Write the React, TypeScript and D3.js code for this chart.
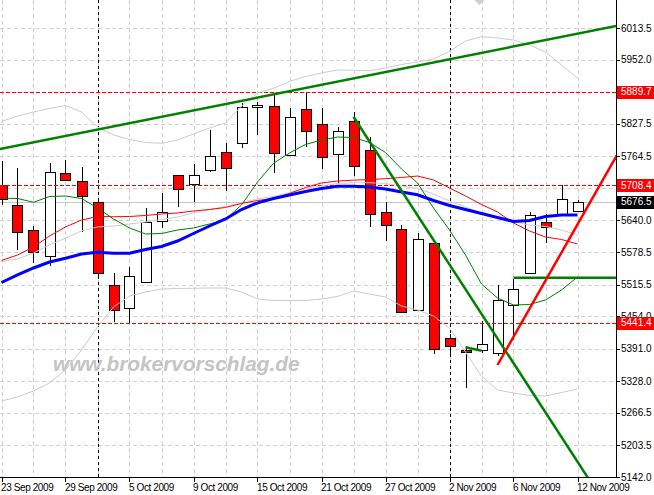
import React from 'react';
import * as d3 from 'd3';

// ---- data ----
const dates = [
  '2009-09-23','2009-09-24','2009-09-25','2009-09-28','2009-09-29','2009-09-30','2009-10-01','2009-10-02',
  '2009-10-05','2009-10-06','2009-10-07','2009-10-08','2009-10-09','2009-10-12','2009-10-13','2009-10-14',
  '2009-10-15','2009-10-16','2009-10-19','2009-10-20','2009-10-21','2009-10-22','2009-10-23','2009-10-26',
  '2009-10-27','2009-10-28','2009-10-29','2009-10-30','2009-11-02','2009-11-03','2009-11-04','2009-11-05',
  '2009-11-06','2009-11-09','2009-11-10','2009-11-11','2009-11-12'];
const open = [5708.8,5669.4,5620.8,5570.4,5731.5,5716.0,5675.2,5514.1,5470.6,5520.5,5638.3,5727.6,5710.1,5737.3,5772.2,5789.7,5859.6,5861.5,5766.4,5855.7,5826.6,5768.4,5832.4,5776.1,5655.8,5622.8,5466.1,5595.6,5411.2,5388.5,5388.5,5382.1,5476.8,5537.4,5636.4,5651.9,5658.3];
const high = [5755.9,5742.3,5629.2,5752.1,5757.3,5743.1,5683.5,5538.5,5549.6,5664.1,5693.2,5729.0,5749.5,5815.5,5790.3,5867.3,5870.4,5887.3,5857.6,5889.7,5857.6,5821.3,5849.9,5801.4,5675.2,5631.1,5615.6,5596.5,5419.6,5395.3,5444.8,5514.7,5526.9,5656.4,5652.5,5708.4,5680.0];
const low = [5670.0,5582.6,5558.0,5552.1,5716.0,5617.0,5527.7,5443.4,5441.4,5518.0,5625.9,5666.6,5675.2,5734.6,5697.1,5781.2,5805.8,5731.5,5765.0,5783.1,5739.2,5710.1,5726.2,5626.7,5600.1,5461.0,5465.0,5381.7,5378.8,5315.3,5382.1,5376.9,5407.9,5536.0,5595.6,5650.5,5656.5];
const close = [5681.6,5617.0,5579.3,5733.4,5717.9,5686.8,5537.4,5465.6,5531.6,5636.4,5655.8,5700.4,5727.6,5764.5,5741.2,5859.6,5863.5,5770.3,5840.2,5814.2,5762.5,5813.0,5745.1,5651.9,5630.2,5463.2,5603.4,5391.4,5397.2,5384.6,5400.2,5485.0,5506.3,5650.5,5626.7,5681.0,5676.5];

const maBlue = [5519.5,5534.1,5547.7,5559.3,5566.5,5574.8,5578.1,5576.2,5576.2,5583.6,5589.4,5600.1,5614.6,5629.2,5642.8,5661.2,5674.2,5682.6,5689.4,5696.2,5702.0,5706.3,5706.5,5704.9,5701.0,5695.2,5689.9,5678.7,5669.0,5661.2,5653.5,5645.7,5637.9,5639.9,5647.6,5650.5,5650.5];
const maRed = [5562.2,5572.9,5588.4,5609.8,5627.3,5640.8,5647.6,5647.2,5647.6,5649.6,5652.5,5654.4,5658.3,5661.2,5665.1,5672.9,5678.7,5682.6,5692.3,5703.9,5712.7,5716.5,5718.1,5719.4,5721.0,5723.3,5726.2,5718.5,5703.0,5687.4,5670.9,5656.4,5635.0,5619.5,5607.8,5603.0,5594.3];
const maGreen = [5683.0,5682.6,5675.2,5686.5,5687.4,5682.6,5664.1,5642.8,5625.3,5613.7,5614.6,5621.4,5625.3,5633.1,5641.8,5670.0,5714.6,5750.9,5770.9,5787.4,5796.1,5801.9,5801.0,5791.3,5771.9,5739.8,5712.7,5664.1,5621.4,5572.9,5516.6,5489.4,5475.9,5476.8,5485.6,5505.0,5530.2];
const bbUpper = [5832.0,5842.7,5850.5,5857.3,5863.1,5850.5,5821.4,5805.8,5797.1,5791.3,5789.7,5796.1,5807.8,5819.4,5829.1,5862.1,5887.3,5896.5,5909.7,5919.4,5926.2,5932.0,5931.4,5930.6,5935.9,5942.7,5947.5,5953.3,5967.9,5988.3,5996.6,5994.1,5990.2,5980.5,5966.9,5941.7,5916.5];
const bbMiddle = [5560.3,5565.1,5576.8,5592.3,5605.9,5619.5,5627.3,5629.2,5633.1,5637.0,5641.8,5646.7,5654.4,5661.2,5667.0,5674.8,5681.6,5686.5,5694.2,5702.0,5706.8,5711.7,5713.2,5713.2,5711.7,5706.8,5702.0,5691.3,5677.7,5666.1,5654.4,5645.7,5637.9,5631.1,5628.2,5621.4,5611.7];
const bbLower = [5289.5,5297.3,5308.9,5324.5,5349.7,5388.5,5433.2,5472.0,5493.3,5501.1,5506.9,5507.9,5508.3,5508.9,5508.9,5501.1,5487.5,5484.6,5484.6,5484.6,5487.5,5492.4,5503.0,5497.2,5491.4,5473.9,5466.2,5454.5,5431.2,5384.6,5338.0,5310.9,5305.0,5300.2,5299.2,5306.0,5312.8];

const yTicks = [6013.5,5952.0,5889.5,5827.5,5764.5,5702.0,5640.0,5578.5,5515.5,5454.0,5391.0,5328.0,5266.5,5203.5,5142.0];
const levelLines = [5889.7, 5708.4, 5441.4];
const lastPrice = 5676.5;
const watermark = 'www.brokervorschlag.de';

// trend lines: [startIndex, startPrice, endIndex, endPrice, extendLeft, extendRight]
const trendGreen: [number, number, number, number, boolean, boolean][] = [
  [0, 5779.2, 36, 6002.4, true, true],
  [22, 5841.3, 36, 5171.7, false, true],
  [32, 5528.8, 36, 5528.8, false, true],
  [29, 5393.7, 30, 5387.1, false, false],
];
const trendRed: [number, number, number, number, boolean, boolean][] = [
  [31, 5359.4, 36, 5632.3, false, true],
];

// ---- layout ----
const W = 654, H = 495;
const PR = 616, PB = 477;
const FONT = '"Liberation Sans", Arial, sans-serif';

const parse = d3.timeParse('%Y-%m-%d');
const fmt = d3.timeFormat('%-d %b %Y');
const dateObjs = dates.map((d) => parse(d) as Date);

const xIdx = d3.scaleLinear().domain([0, dates.length - 1]).range([1.5, 1.5 + 16 * (dates.length - 1)]);
const y = d3.scaleLinear().domain([5142.0, 6013.5]).range([PB, 28]);

function trendPath(t: [number, number, number, number, boolean, boolean]) {
  const [i1, p1, i2, p2, el, er] = t;
  const slope = (p2 - p1) / (i2 - i1);
  const a = el ? xIdx.invert(-5) : i1;
  const b = er ? xIdx.invert(PR + 5) : i2;
  const pa = p1 + slope * (a - i1);
  const pb = p1 + slope * (b - i1);
  return `M${xIdx(a)},${y(pa)}L${xIdx(b)},${y(pb)}`;
}

export default function App() {
  const line = d3.line<number>().x((_, i) => xIdx(i)).y((d) => y(d));
  const monthStarts = dateObjs
    .map((d, i) => (i > 0 && d.getMonth() !== dateObjs[i - 1].getMonth() ? i : -1))
    .filter((i) => i >= 0);
  const xLabelIdx = dates.map((_, i) => i).filter((i) => i % 4 === 0);
  const gridIdx = dates.map((_, i) => i).filter((i) => i % 2 === 0);
  const snap = (v: number) => Math.round(v) + 0.5;

  return (
    <svg width={W} height={H} style={{ position: 'absolute', left: 0, top: 0, background: '#fff' }}>
      <defs>
        <clipPath id="plot">
          <rect x={0} y={0} width={PR} height={PB} />
        </clipPath>
      </defs>
      <rect x={0} y={0} width={W} height={H} fill="#fff" />
      <g clipPath="url(#plot)">
        {/* grid */}
        {gridIdx.map((i) => (
          <line key={'gx' + i} x1={snap(xIdx(i))} x2={snap(xIdx(i))} y1={0} y2={PB}
            stroke="#d0d0d0" strokeDasharray="4,3" shapeRendering="crispEdges" />
        ))}
        {yTicks.map((v) => (
          <line key={'gy' + v} x1={0} x2={PR} y1={snap(y(v))} y2={snap(y(v))}
            stroke="#d0d0d0" strokeDasharray="4,3" shapeRendering="crispEdges" />
        ))}
        {/* month separators */}
        {monthStarts.map((i) => (
          <line key={'ms' + i} x1={snap(xIdx(i))} x2={snap(xIdx(i))} y1={0} y2={PB}
            stroke="#000" strokeDasharray="3,3" shapeRendering="crispEdges" />
        ))}
        {/* watermark */}
        <text x={53} y={371} fontFamily={FONT} fontSize={20.8} fontWeight="bold" fontStyle="italic" fill="#c4c4c4">
          {watermark}
        </text>
        {/* bid line */}
        <line x1={0} x2={PR} y1={snap(y(lastPrice))} y2={snap(y(lastPrice))} stroke="#c8c8c8" shapeRendering="crispEdges" />
        {/* top marker */}
        <path d={`M${xIdx(30) - 7},0L${xIdx(30) + 3},0L${xIdx(30) - 2},5Z`} fill="#cfcfcf" />
        {/* candles */}
        {dates.map((d, i) => {
          const cx = Math.round(xIdx(i)) + 0.5;
          const up = close[i] >= open[i];
          const top = Math.round(y(Math.max(open[i], close[i]))) + 0.5;
          const bot = Math.round(y(Math.min(open[i], close[i]))) + 0.5;
          return (
            <g key={d} shapeRendering="crispEdges">
              <line x1={cx} x2={cx} y1={Math.round(y(high[i]))} y2={Math.round(y(low[i]))} stroke="#000" />
              <rect x={cx - 5} y={top} width={10} height={Math.max(1, bot - top)}
                fill={up ? '#fff' : '#ff0000'} stroke="#000" />
            </g>
          );
        })}
        {/* level lines */}
        {levelLines.map((v) => (
          <line key={'lv' + v} x1={0} x2={PR} y1={snap(y(v))} y2={snap(y(v))}
            stroke="#ff0000" strokeDasharray="4,2" shapeRendering="crispEdges" />
        ))}
        {/* bollinger */}
        {[bbUpper, bbMiddle, bbLower].map((s, k) => (
          <path key={'bb' + k} d={line(s) || ''} fill="none" stroke="#cccccc" strokeWidth={1} />
        ))}
        <path d={line(maRed) || ''} fill="none" stroke="#ff0000" strokeWidth={1} />
        <path d={line(maGreen) || ''} fill="none" stroke="#008000" strokeWidth={1} />
        <path d={line(maBlue) || ''} fill="none" stroke="#0000ff" strokeWidth={3} />
        {/* trend lines */}
        {trendGreen.map((t, k) => (
          <path key={'tg' + k} d={trendPath(t)} stroke="#008000" strokeWidth={2.5} fill="none" />
        ))}
        {trendRed.map((t, k) => (
          <path key={'tr' + k} d={trendPath(t)} stroke="#ff0000" strokeWidth={2.5} fill="none" />
        ))}
      </g>
      {/* axes */}
      <line x1={PR + 0.5} x2={PR + 0.5} y1={0} y2={PB + 1} stroke="#000" shapeRendering="crispEdges" />
      <line x1={0} x2={PR + 1} y1={PB + 0.5} y2={PB + 0.5} stroke="#000" shapeRendering="crispEdges" />
      {yTicks.map((v) => (
        <g key={'yt' + v}>
          <line x1={PR} x2={PR + 4} y1={snap(y(v))} y2={snap(y(v))} stroke="#000" shapeRendering="crispEdges" />
          <text x={621} y={y(v) + 3.5} fontFamily={FONT} fontSize={10} fill="#000">{v.toFixed(1)}</text>
        </g>
      ))}
      {levelLines.map((v) => (
        <g key={'lb' + v}>
          <rect x={617} y={Math.round(y(v)) - 6} width={37} height={13} fill="#ff0000" />
          <text x={621} y={y(v) + 3.5} fontFamily={FONT} fontSize={10} fill="#fff">{v.toFixed(1)}</text>
        </g>
      ))}
      <rect x={617} y={Math.round(y(lastPrice)) - 6} width={37} height={13} fill="#000" />
      <text x={621} y={y(lastPrice) + 3.5} fontFamily={FONT} fontSize={10} fill="#fff">{lastPrice.toFixed(1)}</text>
      {xLabelIdx.map((i) => (
        <g key={'xt' + i}>
          <line x1={snap(xIdx(i))} x2={snap(xIdx(i))} y1={PB} y2={PB + 5} stroke="#000" shapeRendering="crispEdges" />
          <text x={Math.max(0, xIdx(i) - 0.5)} y={490.5} fontFamily={FONT} fontSize={10} letterSpacing={-0.4} fill="#000">
            {fmt(dateObjs[i])}
          </text>
        </g>
      ))}
    </svg>
  );
}
